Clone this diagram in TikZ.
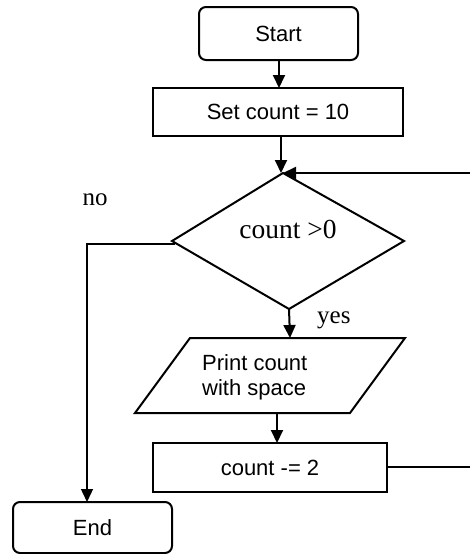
\documentclass[tikz,border=0pt]{standalone}
\usepackage{fontspec}
\setmainfont{Liberation Serif}
\newfontfamily\arial{Liberation Sans}
\usetikzlibrary{arrows.meta}
\begin{document}
\begin{tikzpicture}[x=1pt,y=-1pt,
  boxst/.style={draw, line width=2pt, inner sep=0pt, outer sep=0pt,
    font=\arial\fontsize{22}{25}\selectfont},
  rboxst/.style={boxst, rounded corners=7pt},
  outl/.style={line width=2pt, line join=miter},
  arr/.style={-{Triangle[length=13pt,width=12pt]}, line width=2pt},
  conn/.style={line width=1.4pt},
  lbl/.style={inner sep=0pt, font=\fontsize{25}{28}\selectfont},
]
\useasboundingbox (0,0) rectangle (470,554);

% nodes
\node[rboxst, minimum width=159pt, minimum height=53pt] (start) at (278.5,33.5) {Start};
\node[boxst, minimum width=250pt, minimum height=48pt] (set) at (278,112) {Set count = 10};

% decision diamond
\coordinate (dtop) at (283,173);
\coordinate (dright) at (404,241);
\coordinate (dbot) at (289,309);
\coordinate (dleft) at (172,241);
\draw[outl] (dtop) -- (dright) -- (dbot) -- (dleft) -- cycle;
\node[inner sep=0pt, anchor=base, font=\fontsize{27.5}{30}\selectfont] (cond) at (288,238) {count >0};

% print parallelogram
\coordinate (ptl) at (190,338);
\coordinate (ptr) at (405,338);
\coordinate (pbr) at (350,413);
\coordinate (pbl) at (135,413);
\draw[outl] (ptl) -- (ptr) -- (pbr) -- (pbl) -- cycle;
\node[inner sep=0pt, anchor=north west, align=left,
  font=\arial\fontsize{22}{25}\selectfont] (print) at (202,354) {Print count\\with space};

\node[boxst, minimum width=234pt, minimum height=49pt] (dec) at (270,467.5) {count -= 2};
\node[rboxst, minimum width=159pt, minimum height=51pt] (end) at (92.5,527.5) {End};

% labels
\node[lbl, anchor=base] (no) at (95,205) {no};
\node[lbl, anchor=base west] (yes) at (317,323) {yes};

% free ends on the right edge
\coordinate (rtop) at (470,173);
\coordinate (rbot) at (470,467);
\coordinate (nocorner) at (87,244);

% connectors
\draw[arr] (279,0 |- start.south) -- (279,0 |- set.north);
\draw[arr] (281,0 |- set.south) -- (281,0 |- dtop);
\draw[arr] (rtop) -- (dtop);
\draw[arr] (dbot) -- (290,338);
\draw[arr] (277,413) -- (277,0 |- dec.north);
\draw[conn] (dec.east |- rbot) -- (rbot);
\draw[conn, -{Triangle[length=13pt,width=12pt]}] (175,244) -- (nocorner) -- (nocorner |- end.north);
\end{tikzpicture}
\end{document}
